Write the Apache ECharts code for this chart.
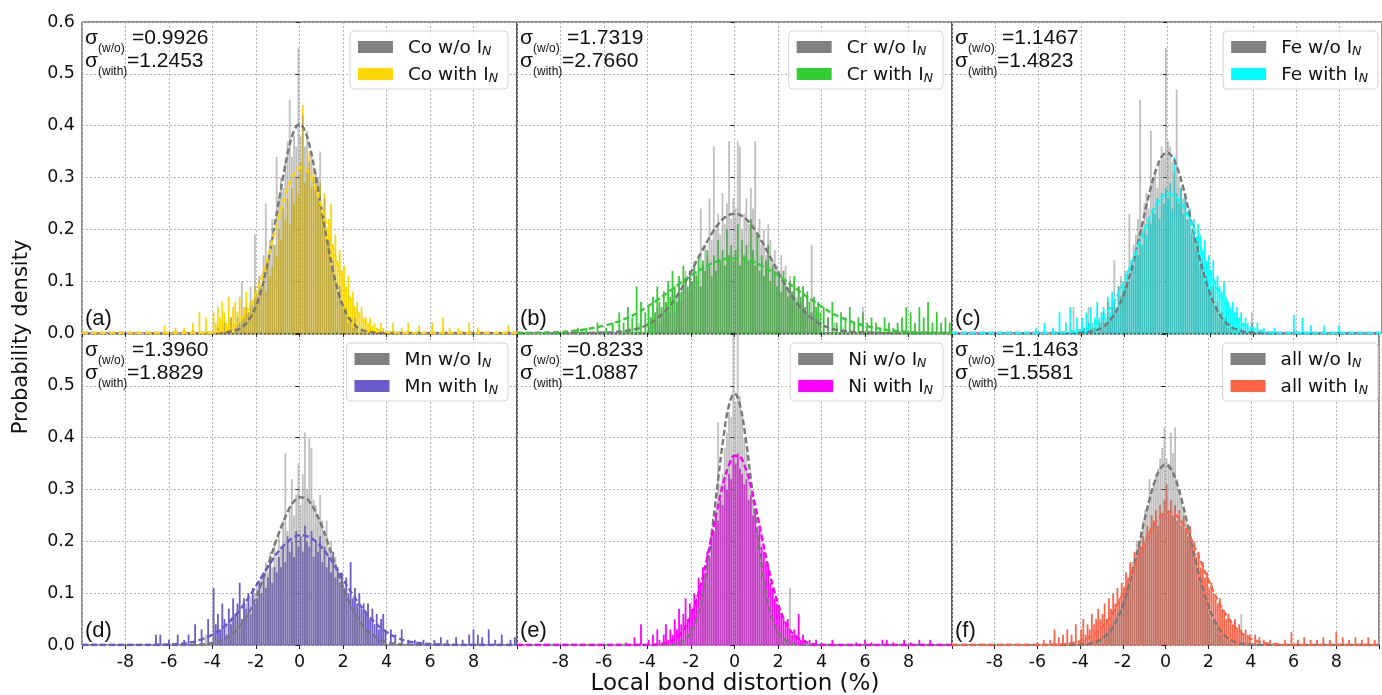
<!DOCTYPE html>
<html>
<head>
<meta charset="utf-8">
<script src="https://cdn.jsdelivr.net/npm/echarts@6/dist/echarts.min.js"></script>
<style>
  html, body { margin: 0; padding: 0; background: #fff; }
  #chart { width: 1382px; height: 695px; }
</style>
</head>
<body>
<div id="chart"></div>
<script>
// histogram core bins: centers -3.95 ... 3.95, step 0.1, heights in hundredths
const binStart = -3.95
const binStep = 0.1

const coWithout = [
  0,0,1,0,0,2,0,1,3,0,  1,3,2,10,3,5,4,9,6,19,  8,11,9,15,25,14,18,22,17,34,  26,30,28,33,37,45,34,38,36,55,
  38,42,36,39,33,35,30,31,30,35,  23,26,17,18,13,14,10,8,9,5,  4,5,2,3,1,3,1,0,1,0,  0,0,0,0,0,0,0,0,0,0]
const coWith = [
  4,2,5,3,6,4,2,7,3,5,  6,4,7,3,5,8,4,6,5,9,  7,10,9,12,8,14,11,13,17,15,  20,18,24,22,26,21,28,25,30,27,
  33,44,29,31,35,28,32,30,26,29,  24,27,20,22,25,17,19,14,16,12,  13,9,11,7,8,5,6,4,5,3,  3,2,3,1,2,1,0,2,1,0]
const crWithout = [
  1,3,0,2,5,2,4,3,6,4,  5,8,4,7,10,6,9,12,8,11,  10,14,12,9,24,13,17,15,26,18,  36,20,23,19,27,21,25,37,22,26,
  24,37,36,20,23,26,21,28,24,37,  19,22,17,20,15,21,18,14,16,13,  12,15,10,13,9,11,8,10,7,9,  6,8,5,7,4,17,5,3,4,2]
const crWith = [
  5,3,7,4,9,6,5,8,6,10,  7,12,9,6,11,8,13,10,9,12,  10,13,11,15,9,14,12,16,13,11,  15,12,18,14,16,13,20,15,17,14,
  16,21,13,18,15,17,14,22,16,13,  19,12,15,11,14,17,10,13,12,9,  11,8,12,9,7,10,8,11,6,9,  7,9,5,8,6,4,7,5,6,4]
const feWithout = [
  0,1,0,5,1,2,1,0,3,2,  4,2,6,3,5,14,4,9,11,8,  12,10,23,14,17,19,22,45,21,25,  27,24,39,29,31,28,33,36,34,55,
  37,36,33,31,47,30,28,26,27,22,  24,19,21,16,18,13,14,10,11,8,  7,9,5,6,3,4,2,3,1,2,  1,0,1,0,0,0,0,0,0,4]
const feWith = [
  3,1,4,2,5,1,3,6,2,4,  5,3,7,4,8,6,5,9,7,10,  9,12,10,14,13,16,15,18,17,20,  19,22,21,24,23,26,22,27,25,28,
  26,29,24,34,27,25,28,23,26,22,  24,20,22,18,21,19,16,18,14,15,  12,14,10,11,9,8,10,7,6,5,  6,4,5,3,4,2,3,2,1,2]
const mnWithout = [
  6,1,2,0,3,1,4,2,5,3,  6,4,7,5,3,8,6,9,7,10,  11,9,13,12,16,14,18,15,20,17,  21,19,24,37,22,26,32,25,29,35,
  27,33,41,30,40,38,28,27,25,29,  24,22,24,19,20,16,17,13,14,12,  10,11,8,9,6,7,5,4,5,3,  3,2,3,1,2,1,0,1,0,1]
const mnWith = [
  11,4,6,3,8,5,2,7,4,9,  6,8,12,5,9,7,10,6,11,8,  9,12,10,14,11,13,16,12,15,14,  17,15,19,16,21,18,20,17,22,19,
  21,18,23,20,19,22,17,20,18,21,  16,19,15,17,14,18,13,15,12,14,  11,13,10,16,9,11,8,10,7,8,  6,8,5,7,4,6,3,5,6,3]
const niWithout = [
  0,0,0,0,0,0,0,0,0,0,  0,0,0,1,0,0,2,1,0,3,  3,4,5,6,8,10,12,14,17,20,  22,26,43,31,33,38,41,45,44,64,
  47,62,48,44,40,37,32,30,27,22,  20,17,14,12,10,8,7,5,4,3,  3,2,1,2,1,11,1,0,1,0,  0,0,0,0,0,0,0,0,0,0]
const niWith = [
  1,0,2,0,3,1,0,2,4,1,  3,2,5,3,7,4,6,9,5,8,  7,10,9,13,11,15,14,18,17,21,  22,25,24,28,27,31,30,33,32,36,
  35,37,34,33,31,32,28,29,25,26,  22,23,19,18,16,15,12,11,9,8,  7,6,5,4,5,3,2,3,2,6,  1,2,1,0,1,0,0,1,0,0]
const allWithout = [
  0,0,1,0,0,1,0,1,2,1,  2,3,2,4,3,5,4,6,7,8,  9,11,12,14,16,17,20,19,22,24,  26,27,32,30,31,33,34,36,38,42,
  36,35,41,37,42,32,30,28,26,24,  23,21,19,17,15,13,12,10,9,7,  6,5,5,4,3,2,2,1,1,1,  1,0,1,0,0,6,0,0,0,0]
const allWith = [
  3,5,2,4,3,6,4,5,7,5,  6,8,5,9,7,10,8,11,9,12,  11,14,13,16,15,18,17,20,19,21,  20,23,22,25,24,26,23,27,25,28,
  31,26,28,25,27,24,26,23,25,22,  21,23,19,20,17,18,15,16,13,14,  11,12,10,9,8,9,7,6,5,6,  5,4,5,3,4,3,2,3,2,2]

// sparse bars outside the core range: [x, height in hundredths]
const coWithoutTail = []
const coWithTail = [[-6.2,1.5],[-5.7,1],[-5.3,1],[-4.9,2],[-4.6,4],[-4.3,3],[4.3,2],[4.7,1],[5.0,2],[5.5,1.5],
  [6.1,2],[6.6,3],[6.9,1],[7.3,1],[7.8,2],[8.2,1],[9.6,1.5]]
const crWithoutTail = [[-4.8,1],[-4.4,2],[4.3,3],[4.6,2],[5.0,1],[5.5,1],[5.9,5]]
const crWithTail = [[-7.2,1],[-6.8,1],[-6.3,2],[-5.9,1],[-5.6,2],[-5.3,4],[-5.1,2],[-4.9,5],[-4.7,3],[-4.5,9],
  [-4.3,6],[-4.1,4],[4.1,5],[4.3,3],[4.5,6],[4.7,2],[4.9,4],[5.1,3],[5.3,5],[5.5,2],[5.7,3],[5.9,4],[6.1,2],
  [6.3,3],[6.5,2],[6.7,1],[6.9,3],[7.1,2],[7.3,1],[7.5,2],[7.7,3],[7.9,5],[8.1,4],[8.3,2],[8.5,5],[8.7,3],
  [8.9,6],[9.1,2],[9.3,4],[9.5,2],[9.7,3],[9.9,2]]
const feWithoutTail = [[-4.35,5]]
const feWithTail = [[-6.1,1],[-5.7,2],[-5.3,1],[-5.0,4],[-4.7,2],[-4.5,5],[-4.2,3],[4.2,2],[4.5,1],[5.0,1],
  [5.9,3.5],[6.3,3],[6.7,1.5],[7.3,1.5],[8.0,1.5]]
const mnWithoutTail = [[-4.3,2],[4.4,1]]
const mnWithTail = [[-6.6,2],[-6.4,2],[-6.0,1],[-5.6,2],[-5.3,1],[-5.1,2],[-4.8,4],[-4.5,3],[-4.2,5],[4.2,3],
  [4.4,2],[4.7,3],[5.0,1],[5.3,1],[5.7,1],[6.2,1],[6.5,1.5],[6.8,1],[7.2,1.5],[7.5,1],[7.8,2],[8.0,3],[8.2,2],
  [8.4,1.5],[8.7,3],[9.0,1],[9.3,2],[9.7,1],[9.9,1.5]]
const niWithoutTail = []
const niWithTail = [[-5.0,0.5],[-4.6,1.5],[-4.3,4],[4.5,1],[5.6,0.5],[6.0,1],[6.3,0.5],[6.8,1],[7.0,1],[7.3,0.5],
  [7.8,1],[8.1,0.5],[8.5,1],[9.0,1]]
const allWithoutTail = [[4.3,1]]
const allWithTail = [[-6.0,0.5],[-5.7,1],[-5.4,1],[-5.2,3],[-5.0,1.5],[-4.8,2],[-4.6,3],[-4.4,2],[-4.2,4],[4.2,2],
  [4.4,1.5],[4.6,1],[4.9,1],[5.2,0.5],[5.6,1],[5.9,2.5],[6.2,1],[6.5,1.5],[6.8,1],[7.1,1],[7.4,1.5],[7.7,1],
  [8.0,2.5],[8.3,1.5],[8.6,1],[8.9,1.5],[9.2,1],[9.5,1.5],[9.8,1]]

// fitted normal curves, sampled at fitX, values in thousandths
const fitX = [-10,-8,-6,-5,-4.5,-4,-3.5,-3,-2.75,-2.5,-2.25,-2,-1.75,-1.5,-1.25,-1,-0.75,-0.5,-0.25,0,
  0.25,0.5,0.75,1,1.25,1.5,1.75,2,2.25,2.5,2.75,3,3.5,4,4.5,5,6,8,10]
const coWithoutFit = [0,0,0,0,0,0,1,4,8,17,30,52,84,128,182,242,302,355,390,403,
  390,355,302,242,182,128,84,52,30,17,8,4,1,0,0,0,0,0,0]
const coWithFit = [0,0,0,0,0,1,5,14,23,36,54,77,106,140,178,217,254,285,308,319,
  318,304,279,246,209,170,133,100,72,50,33,21,8,2,1,0,0,0,0]
const crWithoutFit = [0,0,1,4,8,16,30,51,65,81,99,118,138,158,177,195,210,221,228,230,
  228,221,210,195,177,158,138,118,99,81,65,51,30,16,8,4,1,0,0]
const crWithFit = [0,2,14,28,38,51,65,80,88,96,104,111,118,124,130,135,139,142,144,144,
  144,142,139,135,130,124,118,111,104,96,88,80,65,51,38,28,14,2,0]
const feWithoutFit = [0,0,0,0,0,1,3,11,20,32,51,76,109,148,192,238,281,316,340,348,
  340,316,281,238,192,148,109,76,51,32,20,11,3,1,0,0,0,0,0]
const feWithFit = [0,0,0,1,2,6,14,30,42,58,77,99,124,150,178,204,228,248,262,269,
  268,260,245,224,199,172,145,118,94,73,54,40,19,8,3,1,0,0,0]
const mnWithoutFit = [0,0,0,0,1,4,10,24,36,50,69,92,119,148,179,210,237,261,277,285,
  284,274,256,232,204,173,142,113,87,65,47,33,15,6,2,1,0,0,0]
const mnWithFit = [0,0,1,5,11,20,34,55,67,82,97,114,131,148,164,179,191,201,208,212,
  211,207,200,189,176,161,144,127,110,94,79,65,42,25,14,7,2,0,0]
const niWithoutFit = [0,0,0,0,0,0,0,1,2,5,12,25,51,92,153,232,320,403,463,485,
  463,403,320,232,153,92,51,25,12,5,2,1,0,0,0,0,0,0,0]
const niWithFit = [0,0,0,0,0,0,2,6,12,21,36,57,87,124,170,220,270,315,348,365,
  363,342,307,260,210,160,116,80,52,32,19,11,3,1,0,0,0,0,0]
const allWithoutFit = [0,0,0,0,0,1,3,11,20,32,51,76,109,148,192,238,281,316,340,348,
  340,316,281,238,192,148,109,76,51,32,20,11,3,1,0,0,0,0,0]
const allWithFit = [0,0,0,1,3,7,16,33,45,60,78,99,122,146,171,195,217,235,248,255,
  256,250,238,221,200,176,151,127,103,82,64,48,25,12,5,2,0,0,0]

const elements = ['Co', 'Cr', 'Fe', 'Mn', 'Ni', 'all']
const sigmaWithout = ['0.9926', '1.7319', '1.1467', '1.3960', '0.8233', '1.1463']
const sigmaWith = ['1.2453', '2.7660', '1.4823', '1.8829', '1.0887', '1.5581']
const panelLabels = ['(a)', '(b)', '(c)', '(d)', '(e)', '(f)']
const withColors = ['#ffd700', '#32cd32', '#00ffff', '#6a5acd', '#ff00ff', '#ff6347']

const histWithout = [coWithout, crWithout, feWithout, mnWithout, niWithout, allWithout]
const histWith = [coWith, crWith, feWith, mnWith, niWith, allWith]
const tailWithout = [coWithoutTail, crWithoutTail, feWithoutTail, mnWithoutTail, niWithoutTail, allWithoutTail]
const tailWith = [coWithTail, crWithTail, feWithTail, mnWithTail, niWithTail, allWithTail]
const fitWithout = [coWithoutFit, crWithoutFit, feWithoutFit, mnWithoutFit, niWithoutFit, allWithoutFit]
const fitWith = [coWithFit, crWithFit, feWithFit, mnWithFit, niWithFit, allWithFit]

const W = 1382
const colLeft = [82, 517, 952]
const rowTop = [22, 334]
const panelW = 435
const panelH = 311
const gray = '#808080'
const textColor = '#111'

const toBars = (core, tail) => {
  const pts = core.map((h, k) => [+(binStart + k * binStep).toFixed(2), h / 100])
  tail.forEach(([x, h]) => pts.push([x, h / 100]))
  return pts.filter(p => p[1] > 0)
}
const toCurve = fit => fit.map((v, k) => [fitX[k], v / 1000])

const grid = [], xAxis = [], yAxis = [], series = [], legend = [], graphic = []
const gridLine = { show: true, lineStyle: { color: '#b5b5b5', type: [2, 2], width: 1 } }
const tickLabel = { fontFamily: 'DejaVu Sans', fontSize: 17.5, color: textColor }

elements.forEach((el, i) => {
  const c = i % 3, r = Math.floor(i / 3)
  const L = colLeft[c], T = rowTop[r]
  grid.push({ left: L, top: T, width: panelW, height: panelH, show: true, borderColor: '#222', borderWidth: 1 })
  xAxis.push({
    type: 'value', gridIndex: i, min: -10, max: 10, interval: 2,
    axisLine: { show: false },
    axisTick: { show: true, length: 4, lineStyle: { color: '#222' } },
    axisLabel: Object.assign({ show: r === 1, margin: 8, formatter: v => Math.abs(v) > 9 ? '' : String(v) }, tickLabel),
    splitLine: gridLine
  })
  yAxis.push({
    type: 'value', gridIndex: i, min: 0, max: 0.6, interval: 0.1,
    axisLine: { show: false },
    axisTick: { show: true, length: 4, lineStyle: { color: '#222' } },
    axisLabel: Object.assign({ show: c === 0, margin: 7, formatter: v => (r === 1 && v > 0.55) ? '' : v.toFixed(1) }, tickLabel),
    splitLine: gridLine
  })

  const nameWith = el + ' with', nameWithout = el + ' w/o'
  series.push({
    name: nameWith, type: 'bar', xAxisIndex: i, yAxisIndex: i, z: 2,
    barWidth: 1.8, barGap: '-100%', silent: true,
    itemStyle: { color: withColors[i] },
    data: toBars(histWith[i], tailWith[i])
  })
  series.push({
    name: nameWithout, type: 'bar', xAxisIndex: i, yAxisIndex: i, z: 3,
    barWidth: 1.8, barGap: '-100%', silent: true,
    itemStyle: { color: gray, opacity: 0.5 },
    data: toBars(histWithout[i], tailWithout[i])
  })
  series.push({
    type: 'line', xAxisIndex: i, yAxisIndex: i, z: 4, smooth: 0.4, showSymbol: false, silent: true,
    lineStyle: { color: '#777', width: 2.4, type: [6, 3] },
    data: toCurve(fitWithout[i])
  })
  series.push({
    type: 'line', xAxisIndex: i, yAxisIndex: i, z: 5, smooth: 0.4, showSymbol: false, silent: true,
    lineStyle: { color: withColors[i], width: 2.4, type: [6, 3] },
    data: toCurve(fitWith[i])
  })

  legend.push({
    data: [nameWithout, nameWith],
    orient: 'vertical', align: 'left',
    right: W - (L + panelW) + 9, top: T + 9,
    icon: 'rect', itemWidth: 35, itemHeight: 12, itemGap: 5,
    padding: [5, 10, 4, 8],
    backgroundColor: 'rgba(255,255,255,0.85)', borderColor: '#d4d4d4', borderWidth: 1, borderRadius: 4,
    selectedMode: false,
    itemStyle: { opacity: 1 },
    formatter: name => '{t|' + name + ' I}{s|N}',
    textStyle: {
      fontFamily: 'DejaVu Sans', fontSize: 18.5, color: textColor, lineHeight: 22,
      rich: {
        t: { fontFamily: 'DejaVu Sans', fontSize: 18.5, color: textColor, lineHeight: 22, verticalAlign: 'bottom', padding: [0, 0, 0, 10] },
        s: { fontFamily: 'DejaVu Sans', fontSize: 12.5, fontStyle: 'italic', color: textColor, lineHeight: 12, verticalAlign: 'bottom' }
      }
    }
  })

  const big = '21px "Liberation Sans", Arial, sans-serif'
  const small = '12px "Liberation Sans", Arial, sans-serif'
  const txt = (x, y, text, font) => ({
    type: 'text', x, y, silent: true, z: 100,
    style: { text, font, fill: textColor, align: 'left', verticalAlign: 'middle' }
  })
  graphic.push(txt(L + 3, T + 16, 'σ', big))
  graphic.push(txt(L + 16, T + 27, '(w/o)', small))
  graphic.push(txt(L + 50, T + 16, '=' + sigmaWithout[i], big))
  graphic.push(txt(L + 3, T + 39, 'σ', big))
  graphic.push(txt(L + 16, T + 50, '(with)', small))
  graphic.push(txt(L + 45, T + 39, '=' + sigmaWith[i], big))
  graphic.push(txt(L + 3, T + 297, panelLabels[i], '22px "Liberation Sans", Arial, sans-serif'))
})

graphic.push({
  type: 'text', x: 22, y: 337, rotation: Math.PI / 2, silent: true,
  style: { text: 'Probability density', font: '21px "DejaVu Sans", sans-serif', fill: textColor, align: 'center', verticalAlign: 'middle' }
})
graphic.push({
  type: 'text', x: 735, y: 684, silent: true,
  style: { text: 'Local bond distortion (%)', font: '23px "DejaVu Sans", sans-serif', fill: textColor, align: 'center', verticalAlign: 'middle' }
})

const chart = echarts.init(document.getElementById('chart'))
chart.setOption({
  animation: false,
  backgroundColor: '#fff',
  grid, xAxis, yAxis, series, legend, graphic
})
</script>
</body>
</html>
